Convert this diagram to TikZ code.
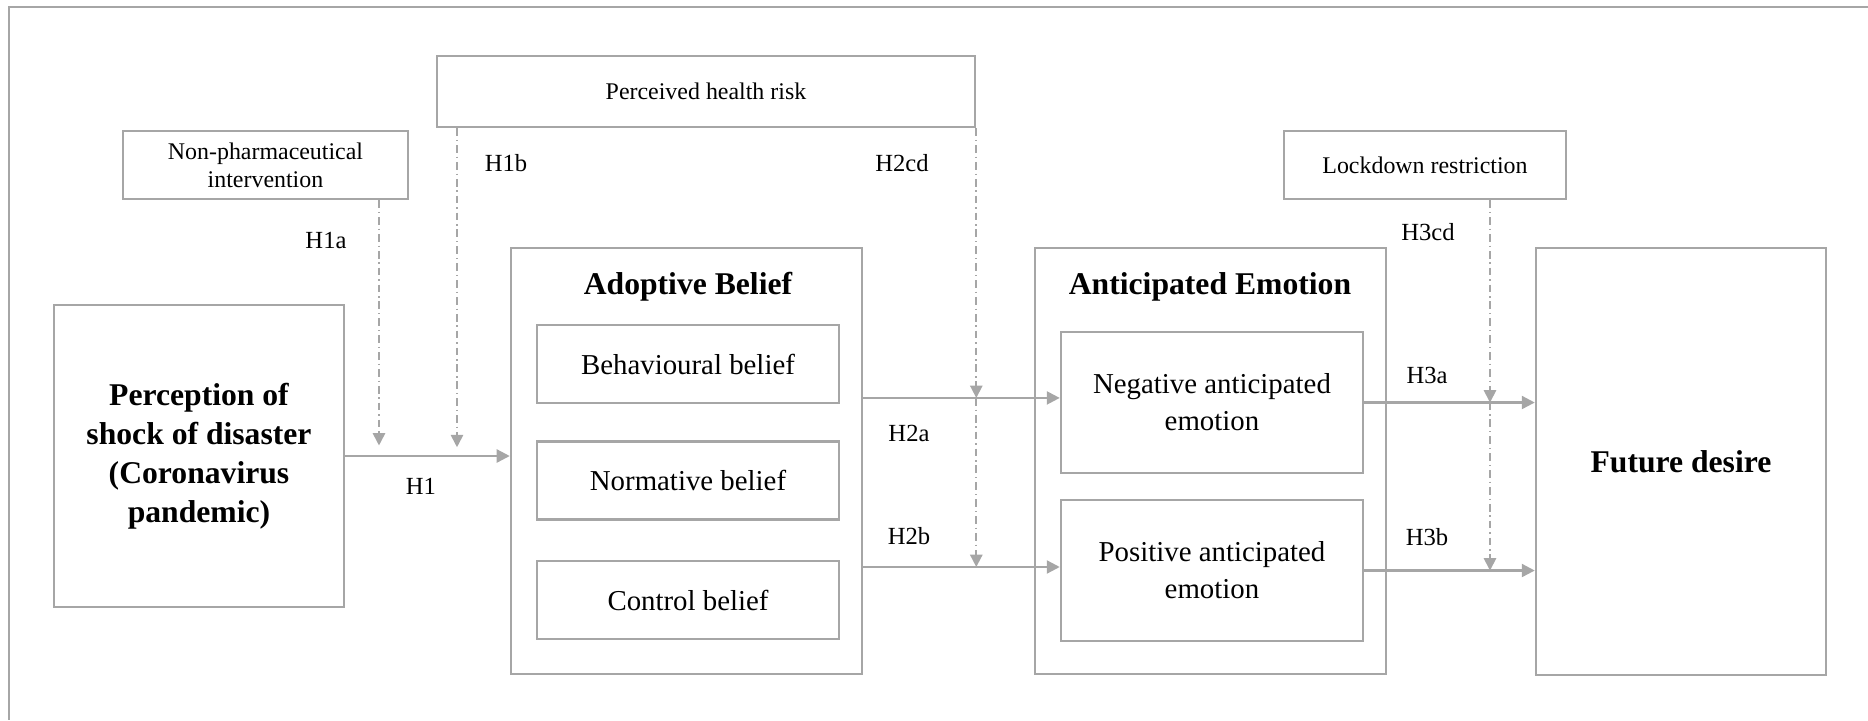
\documentclass[tikz,border=0pt]{standalone}
\usepackage{fontspec}
\setmainfont{Liberation Serif}
\usetikzlibrary{arrows.meta}
\definecolor{lgray}{RGB}{166,166,166}

\begin{document}
\begin{tikzpicture}[x=0.01cm,y=-0.01cm,
  cbox/.style={draw=lgray,line width=0.65pt,inner sep=0pt,align=center},
  sml/.style={font=\fontsize{6.8}{8}\selectfont},
  mid/.style={font=\fontsize{8.2}{10.5}\selectfont},
  big/.style={font=\fontsize{9}{11.1}\selectfont\bfseries},
  hlab/.style={font=\fontsize{7}{8}\selectfont},
  link/.style={draw=lgray,line width=0.65pt,-{Triangle[length=3.7pt,width=3.7pt]}},
  moder/.style={draw=lgray,line width=0.5pt,dash pattern=on 2.2pt off 1.1pt on 0.4pt off 1.1pt,-{Triangle[length=3.5pt,width=3.5pt]}}]
\useasboundingbox (0,0) rectangle (1868,720);
\draw[lgray,line width=0.65pt] (1868,7) -- (9,7) -- (9,720);

\node[cbox,sml,minimum width=2.85cm,minimum height=0.68cm] (np) at (265.5,165) {Non-pharmaceutical\\intervention};
\node[cbox,sml,minimum width=5.38cm,minimum height=0.71cm] (phr) at (706,91.5) {Perceived health risk};
\node[cbox,sml,minimum width=2.82cm,minimum height=0.68cm] (lock) at (1425,165) {Lockdown restriction};

\node[cbox,big,minimum width=2.90cm,minimum height=3.02cm] (shock) at (199,456) {Perception of\\shock of disaster\\(Coronavirus\\pandemic)};
\node[cbox,minimum width=3.51cm,minimum height=4.26cm] (ab) at (686.5,461) {};
\node[big] (abt) at (688,287) {Adoptive Belief};
\node[cbox,mid,minimum width=3.02cm,minimum height=0.78cm] (bb) at (688,364) {Behavioural belief};
\node[cbox,mid,minimum width=3.02cm,minimum height=0.78cm] (nb) at (688,480.5) {Normative belief};
\node[cbox,mid,minimum width=3.02cm,minimum height=0.78cm] (cb) at (688,600) {Control belief};

\node[cbox,minimum width=3.51cm,minimum height=4.26cm] (ae) at (1210.5,461) {};
\node[big] (aet) at (1210,287) {Anticipated Emotion};
\node[cbox,mid,minimum width=3.02cm,minimum height=1.41cm] (ne) at (1212,402.5) {Negative anticipated\\emotion};
\node[cbox,mid,minimum width=3.02cm,minimum height=1.41cm] (pe) at (1212,570.5) {Positive anticipated\\emotion};

\node[cbox,big,minimum width=2.90cm,minimum height=4.27cm] (fd) at (1681,461.5) {Future desire};

\coordinate (na) at ([yshift=1.3pt]ne.west);
\coordinate (pa) at ([yshift=1pt]pe.west);
\draw[link] (shock.east) -- (shock.east -| ab.west);
\draw[link] (ab.east |- na) -- (na);
\draw[link] (ab.east |- pa) -- (pa);
\draw[link] (ne.east) -- (ne.east -| fd.west);
\draw[link] (pe.east) -- (pe.east -| fd.west);

\coordinate (k1) at (np.south -| 379,0);
\coordinate (k2) at (phr.south -| 457,0);
\coordinate (k3) at (phr.south east);
\coordinate (k4) at (lock.south -| 1490,0);
\draw[moder,shorten >=3pt] (k1) -- (k1 |- shock.east);
\draw[moder,shorten >=2.5pt] (k2) -- (k2 |- shock.east);
\draw[moder] (k3) -- (k3 |- na);
\draw[moder] (k3 |- na) -- (k3 |- pa);
\draw[moder] (k4) -- (k4 |- ne.east);
\draw[moder] (k4 |- ne.east) -- (k4 |- pe.east);

\node[hlab] (h1a) at (326,240) {H1a};
\node[hlab] (h1b) at (506,163) {H1b};
\node[hlab] (h2cd) at (902,163) {H2cd};
\node[hlab] (h3cd) at (1428,232) {H3cd};
\node[hlab] (h1) at (421,486) {H1};
\node[hlab] (h2a) at (909,433) {H2a};
\node[hlab] (h2b) at (909,536) {H2b};
\node[hlab] (h3a) at (1427,375) {H3a};
\node[hlab] (h3b) at (1427,537) {H3b};
\end{tikzpicture}
\end{document}
